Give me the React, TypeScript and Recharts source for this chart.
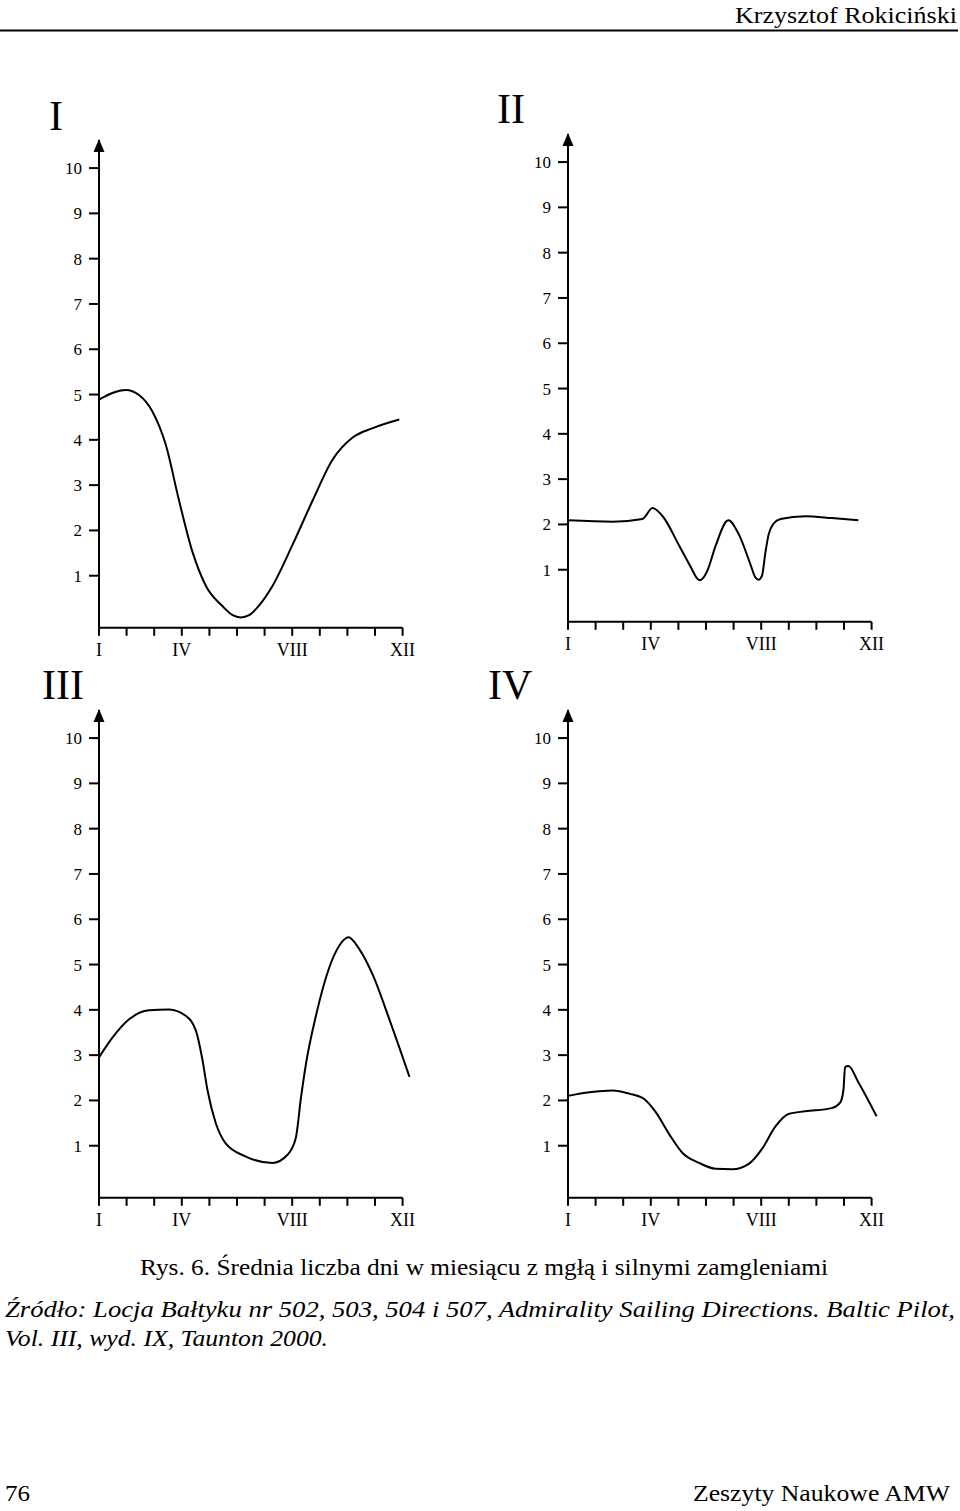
import React from 'react';
import { LineChart, Line, XAxis, YAxis, ReferenceLine, ReferenceDot } from 'recharts';

// ---- shared axis data ----
const MONTH_TICKS = [1, 2, 3, 4, 5, 6, 7, 8, 9, 10, 11, 12];
const MONTH_LABELS = ['I', '', '', 'IV', '', '', '', 'VIII', '', '', '', 'XII'];
const VALUE_TICKS = [1, 2, 3, 4, 5, 6, 7, 8, 9, 10];
const PANEL_TITLES = ['I', 'II', 'III', 'IV'];

// ---- series (month position, mean number of fog days) ----
const panelIMonths = [1, 1.97, 2.45, 2.93, 3.42, 3.9, 4.39, 4.87, 5.47, 5.84, 6.14, 6.44, 6.78, 7.29, 8.01, 8.74, 9.46, 10.19, 10.92, 11.88];
const panelIValues = [4.89, 5.1, 4.99, 4.63, 3.89, 2.66, 1.52, 0.78, 0.33, 0.13, 0.08, 0.13, 0.33, 0.78, 1.68, 2.66, 3.56, 4.05, 4.26, 4.45];

const panelIIMonths = [1, 2.62, 3.7, 4.06, 4.43, 5.03, 5.5, 5.66, 5.78, 5.9, 6.05, 6.35, 6.81, 7.19, 7.61, 7.79, 7.91, 8.03, 8.15, 8.27, 8.45, 8.7, 9.59, 10.56, 11.52];
const panelIIValues = [2.09, 2.06, 2.12, 2.36, 2.18, 1.53, 1.0, 0.82, 0.77, 0.82, 0.98, 1.53, 2.09, 1.78, 1.12, 0.83, 0.78, 0.87, 1.37, 1.78, 2.02, 2.12, 2.18, 2.14, 2.09];

const panelIIIMonths = [1, 1.48, 2.09, 2.81, 3.54, 4.14, 4.51, 4.75, 4.93, 5.23, 5.59, 6.32, 7.29, 7.83, 8.13, 8.32, 8.5, 8.86, 9.34, 9.71, 10.04, 10.43, 10.92, 11.52, 12.25];
const panelIIIValues = [2.95, 3.38, 3.79, 3.99, 4.01, 3.87, 3.54, 2.89, 2.23, 1.5, 1.05, 0.76, 0.62, 0.8, 1.17, 2.07, 2.81, 3.87, 4.93, 5.42, 5.6, 5.34, 4.77, 3.79, 2.52];

const panelIVMonths = [1, 1.78, 2.62, 3.22, 3.76, 4.18, 4.67, 5.15, 5.75, 6.35, 6.95, 7.55, 8.03, 8.51, 8.99, 9.59, 10.56, 10.86, 10.98, 11.04, 11.16, 11.52, 12.18];
const panelIVValues = [2.1, 2.18, 2.22, 2.15, 2.03, 1.74, 1.25, 0.84, 0.62, 0.49, 0.48, 0.6, 0.93, 1.42, 1.7, 1.76, 1.83, 1.95, 2.23, 2.74, 2.76, 2.4, 1.65];

// ---- geometry ----
const Y_MIN = -0.15;
const Y_MAX = 10.62;
const X_MAX = 12.3;
const PLOT_H = 487.8;
const SPACING = 27.6;
const PLOT_W = (X_MAX - 1) * SPACING;
const M_LEFT = 60;
const M_TOP = 14;
const M_RIGHT = 16;
const M_BOTTOM = 42;

const SERIF = '"Liberation Serif", "Times New Roman", serif';
const TXT = { fontFamily: SERIF };

function Arrow(props: any) {
  const { cx, cy } = props;
  if (cx == null || cy == null) return null;
  return <path d={`M${cx},${cy - 1} L${cx - 5.5},${cy + 12} L${cx + 5.5},${cy + 12} Z`} fill="#000" />;
}

function Panel({ axisX, top, months, values }: { axisX: number; top: number; months: number[]; values: number[] }) {
  const data = months.map((m, i) => ({ m, v: values[i] }));
  return (
    <div style={{ position: 'absolute', left: axisX - M_LEFT, top: top - M_TOP }}>
      <LineChart
        width={M_LEFT + PLOT_W + M_RIGHT}
        height={M_TOP + PLOT_H + M_BOTTOM}
        data={data}
        margin={{ top: M_TOP, right: M_RIGHT, bottom: 0, left: 0 }}
      >
        <XAxis
          type="number"
          dataKey="m"
          domain={[1, X_MAX]}
          ticks={MONTH_TICKS}
          interval={0}
          tickFormatter={(v: number) => MONTH_LABELS[v - 1]}
          axisLine={false}
          tickLine={{ stroke: '#000', strokeWidth: 2 }}
          tickSize={8}
          tickMargin={7}
          height={M_BOTTOM}
          tick={{ fill: '#000', fontSize: 18, fontFamily: SERIF }}
          allowDataOverflow
        />
        <YAxis
          type="number"
          domain={[Y_MIN, Y_MAX]}
          ticks={VALUE_TICKS}
          interval={0}
          width={M_LEFT}
          axisLine={{ stroke: '#000', strokeWidth: 2 }}
          tickLine={{ stroke: '#000', strokeWidth: 2 }}
          tickSize={10}
          tickMargin={7}
          tick={{ fill: '#000', fontSize: 17, fontFamily: SERIF }}
          allowDataOverflow
        />
        <ReferenceLine segment={[{ x: 1, y: Y_MIN }, { x: 12, y: Y_MIN }]} stroke="#000" strokeWidth={2} ifOverflow="visible" />
        <ReferenceDot x={1} y={Y_MAX} r={0} shape={Arrow} ifOverflow="visible" />
        <Line type="monotone" dataKey="v" stroke="#000" strokeWidth={2} dot={false} isAnimationActive={false} />
      </LineChart>
    </div>
  );
}

export default function App() {
  return (
    <div style={{ position: 'absolute', left: 0, top: 0, width: 960, height: 1511, background: '#fff', fontFamily: SERIF }}>
      <svg width={960} height={1511} style={{ position: 'absolute', left: 0, top: 0, fontFamily: SERIF }} fill="#000">
        <text style={TXT} x={735} y={22.5} fontSize={23} textLength={222} lengthAdjust="spacingAndGlyphs">Krzysztof Rokiciński</text>
        <line x1={0} y1={30.5} x2={958} y2={30.5} stroke="#000" strokeWidth={2} />
        <text style={TXT} x={49} y={129.5} fontSize={42}>{PANEL_TITLES[0]}</text>
        <text style={TXT} x={497} y={123} fontSize={42}>{PANEL_TITLES[1]}</text>
        <text style={TXT} x={42} y={699} fontSize={42}>{PANEL_TITLES[2]}</text>
        <text style={TXT} x={488} y={699} fontSize={42}>{PANEL_TITLES[3]}</text>
        <text style={TXT} x={140} y={1275} fontSize={24} textLength={688} lengthAdjust="spacingAndGlyphs">Rys. 6. Średnia liczba dni w miesiącu z mgłą i silnymi zamgleniami</text>
        <text style={TXT} x={5} y={1317} fontSize={24} fontStyle="italic" textLength={950} lengthAdjust="spacingAndGlyphs">Źródło: Locja Bałtyku nr 502, 503, 504 i 507, Admirality Sailing Directions. Baltic Pilot,</text>
        <text style={TXT} x={5} y={1346} fontSize={24} fontStyle="italic" textLength={323} lengthAdjust="spacingAndGlyphs">Vol. III, wyd. IX, Taunton 2000.</text>
        <text style={TXT} x={5} y={1501} fontSize={24} textLength={25} lengthAdjust="spacingAndGlyphs">76</text>
        <text style={TXT} x={693} y={1501} fontSize={24} textLength={257} lengthAdjust="spacingAndGlyphs">Zeszyty Naukowe AMW</text>
      </svg>
      <Panel axisX={99} top={140} months={panelIMonths} values={panelIValues} />
      <Panel axisX={568.3} top={134.4} months={panelIIMonths} values={panelIIValues} />
      <Panel axisX={99} top={710} months={panelIIIMonths} values={panelIIIValues} />
      <Panel axisX={568.3} top={710} months={panelIVMonths} values={panelIVValues} />
    </div>
  );
}
